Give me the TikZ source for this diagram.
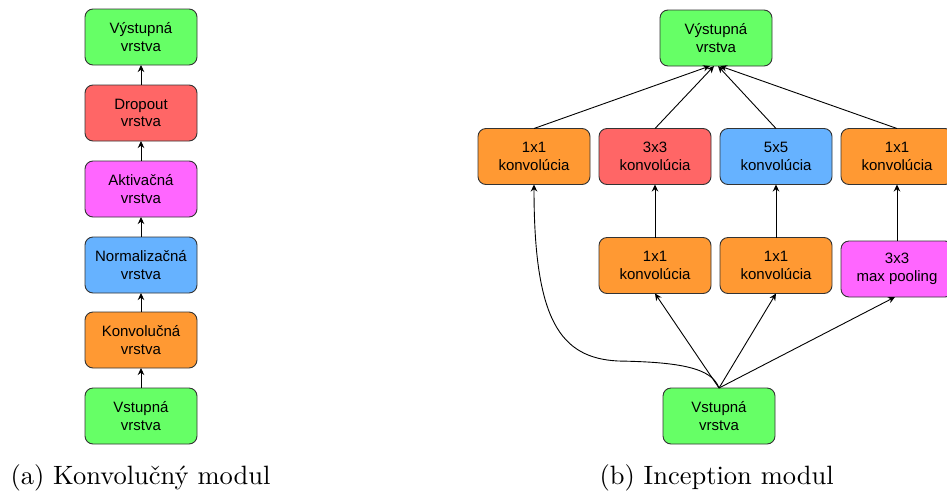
\documentclass[tikz,border=0pt]{standalone}
\usepackage{fontspec}
\newfontfamily\boxfont{Liberation Sans}
\usetikzlibrary{arrows.meta}

\definecolor{cgreen}{HTML}{66FF66}
\definecolor{cred}{HTML}{FF6666}
\definecolor{cpink}{HTML}{FF66FF}
\definecolor{cblue}{HTML}{66B2FF}
\definecolor{corange}{HTML}{FF9933}
\definecolor{cedge}{HTML}{333333}

\tikzset{
  layer/.style={draw=cedge, line width=0.9pt, rounded corners=8pt,
    minimum width=112pt, minimum height=56pt, inner sep=0pt, outer sep=0pt,
    align=center, font=\boxfont\fontsize{15}{17.5}\selectfont},
  link/.style={draw=black, line width=0.9pt,
    -{Stealth[length=7pt,width=6.5pt]}},
  caption/.style={anchor=base west, inner sep=0pt, scale=2.65}
}

\begin{document}
\begin{tikzpicture}[x=1pt, y=-1pt]
  \useasboundingbox (0,0) rectangle (947,493);
  \clip (0,0) rectangle (947,493);

  % ---- (a) plain convolutional stack ----
  \node[layer, fill=cgreen]  (aout)  at (141,37)  {Výstupná\\vrstva};
  \node[layer, fill=cred]    (adrop) at (141,113) {Dropout\\vrstva};
  \node[layer, fill=cpink]   (aact)  at (141,189) {Aktivačná\\vrstva};
  \node[layer, fill=cblue]   (anorm) at (141,265) {Normalizačná\\vrstva};
  \node[layer, fill=corange] (aconv) at (141,340) {Konvolučná\\vrstva};
  \node[layer, fill=cgreen]  (ain)   at (141,416) {Vstupná\\vrstva};

  \draw[link] (ain.north)   -- (aconv.south);
  \draw[link] (aconv.north) -- (anorm.south);
  \draw[link] (anorm.north) -- (aact.south);
  \draw[link] (aact.north)  -- (adrop.south);
  \draw[link] (adrop.north) -- (aout.south);

  % ---- (b) inception block ----
  \node[layer, fill=cgreen]  (bout) at (716,38)  {Výstupná\\vrstva};
  \node[layer, fill=corange] (b1)   at (534,156.5) {1x1\\konvolúcia};
  \node[layer, fill=cred]    (b2)   at (655,156.5) {3x3\\konvolúcia};
  \node[layer, fill=cblue]   (b3)   at (776,156.5) {5x5\\konvolúcia};
  \node[layer, fill=corange] (b4)   at (897,156.5) {1x1\\konvolúcia};
  \node[layer, fill=corange] (c2)   at (655,265.5) {1x1\\konvolúcia};
  \node[layer, fill=corange] (c3)   at (776,265.5) {1x1\\konvolúcia};
  \node[layer, fill=cpink]   (c4)   at (897,269)   {3x3\\max pooling};
  \node[layer, fill=cgreen]  (bin)  at (719,416)  {Vstupná\\vrstva};

  \draw[link] (b1.north) -- ([xshift=-6pt]bout.south);
  \draw[link] (b2.north) -- ([xshift=-2pt]bout.south);
  \draw[link] (b3.north) -- ([xshift=2pt]bout.south);
  \draw[link] (b4.north) -- ([xshift=4pt]bout.south);

  \draw[link] (c2.north) -- (b2.south);
  \draw[link] (c3.north) -- (b3.south);
  \draw[link] (c4.north) -- (b4.south);

  \draw[link] (bin.north) -- (c2.south);
  \draw[link] (bin.north) -- (c3.south);
  \draw[link] (bin.north) -- ([xshift=-2pt]c4.south);

  % skip path straight into the left 1x1 branch
  \coordinate (bend) at (618,361);
  \draw[link] (bin.north) .. controls (712,368) and (680,362) .. (bend)
              .. controls (560,358) and (534,320) .. (b1.south);

  % ---- sub-captions ----
  \node[caption] (capa) at (10,484)  {(a) Konvolučný modul};
  \node[caption] (capb) at (599,484) {(b) Inception modul};
\end{tikzpicture}
\end{document}
